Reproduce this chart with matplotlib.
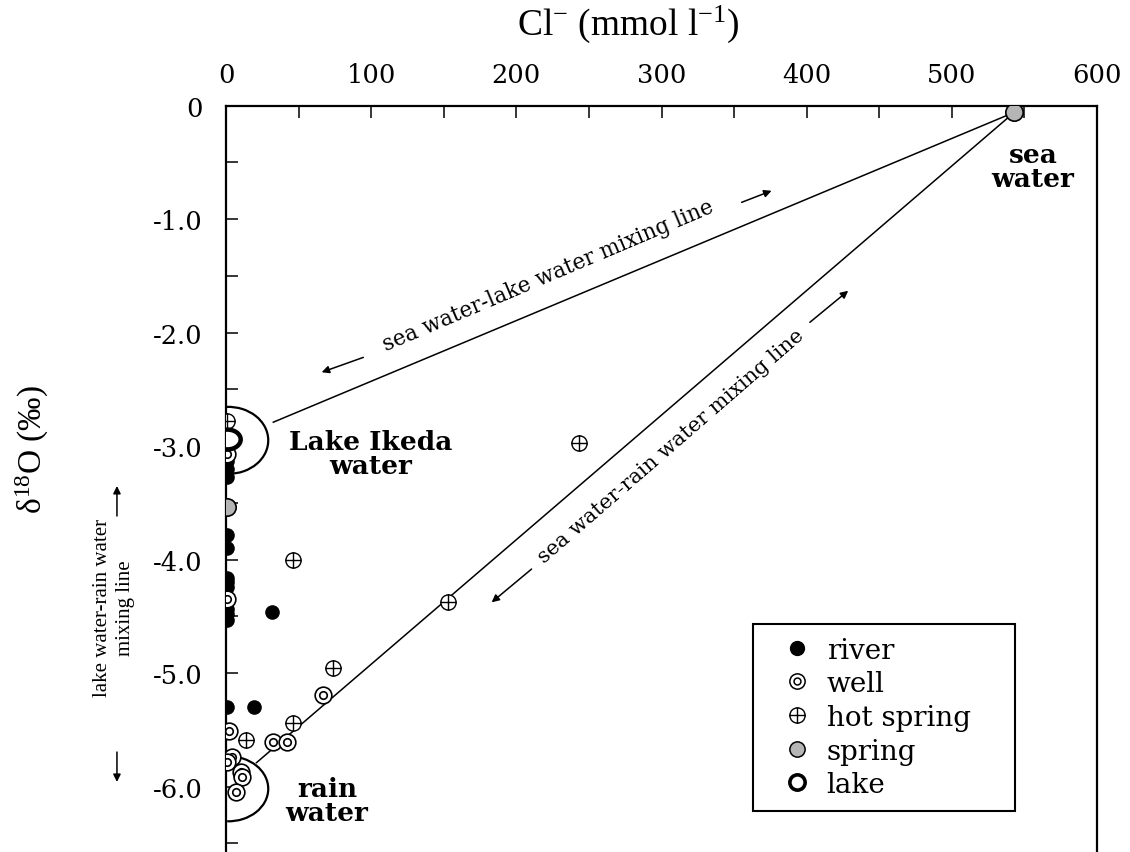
import matplotlib
matplotlib.use("Agg")
import matplotlib.pyplot as plt
from matplotlib.path import Path
from matplotlib.patches import Arc
from matplotlib.lines import Line2D

plt.rcParams.update({
    "font.family": "DejaVu Serif",
    "mathtext.fontset": "custom",
    "mathtext.rm": "Liberation Serif",
    "mathtext.it": "Liberation Serif:italic",
    "mathtext.bf": "Liberation Serif:bold",
    "axes.unicode_minus": False,
})

# --- data (Cl- in mmol/l, d18O in permil) ---
river_cl = [0.5, 0.5, 0.5, 0.5, 0.5, 0.5, 0.5, 0.5, 0.5, 0.5, 0.5, 32, 0.5, 19]
river_d18o = [-3.13, -3.20, -3.27, -3.78, -3.90, -4.16, -4.20, -4.24,
              -4.44, -4.48, -4.53, -4.46, -5.30, -5.30]

well_cl = [0.5, 0.5, 2.3, 32.6, 41.8, 66.6, 4, 0.5, 10.3, 10.8, 6.7]
well_d18o = [-3.07, -4.35, -5.51, -5.61, -5.61, -5.19, -5.74, -5.78,
             -5.87, -5.92, -6.05]

hot_cl = [0.5, 243, 46, 153, 74, 46, 14]
hot_d18o = [-2.78, -2.97, -4.00, -4.37, -4.96, -5.44, -5.59]

spring_cl = [543, 0.5]
spring_d18o = [-0.06, -3.54]

lake_cl = [0.5]
lake_d18o = [-2.94]

# mixing lines (end members)
mix_lake_cl = [543, 32.6]
mix_lake_d18o = [-0.06, -2.79]
mix_rain_cl = [543, 21]
mix_rain_d18o = [-0.06, -5.79]

xticks = [0, 100, 200, 300, 400, 500, 600]
yticks = [0, -1, -2, -3, -4, -5, -6]
ytick_labels = ["0", "-1.0", "-2.0", "-3.0", "-4.0", "-5.0", "-6.0"]

# --- marker shapes ---
circ = Path.unit_circle()
ring = Path.make_compound_path(circ, Path(circ.vertices * 0.45, circ.codes))
plus = Path([(-1, 0), (1, 0), (0, -1), (0, 1)],
            [Path.MOVETO, Path.LINETO, Path.MOVETO, Path.LINETO])
circ_plus = Path.make_compound_path(circ, plus)
oval = Path(circ.vertices * [1, 0.75], circ.codes)

fig = plt.figure(figsize=(11.3, 8.53), dpi=100)
ax = fig.add_axes([0.2, 0.0, 0.7708, 0.8751])

# mixing lines
ax.plot(mix_lake_cl, mix_lake_d18o, color="black", lw=1.1, zorder=1)
ax.plot(mix_rain_cl, mix_rain_d18o, color="black", lw=1.1, zorder=1)

# end member envelopes
ax.add_patch(Arc((1.6, -2.95), 55, 0.59, theta1=-95, theta2=165,
                 color="black", lw=1.6, zorder=2))
ax.add_patch(Arc((1.6, -6.02), 55, 0.573, theta1=-160, theta2=150,
                 color="black", lw=1.6, zorder=2))

# samples
ax.plot(river_cl, river_d18o, ls="none", marker="o", ms=9.5,
        mfc="black", mec="black", zorder=4)
ax.plot(well_cl, well_d18o, ls="none", marker=ring, ms=12,
        mfc="white", mec="black", mew=1.2, zorder=5)
ax.plot(hot_cl, hot_d18o, ls="none", marker=circ_plus, ms=11,
        mfc="white", mec="black", mew=1.0, zorder=5)
ax.plot(spring_cl, spring_d18o, ls="none", marker="o", ms=12.5,
        mfc="#b5b5b5", mec="black", mew=1.2, zorder=5)
ax.plot(lake_cl, lake_d18o, ls="none", marker=oval, ms=19,
        mfc="white", mec="black", mew=3.2, zorder=6)

# mixing line labels and arrows
ax.text(221.9, -1.49, "sea water-lake water mixing line", fontsize=15.5,
        rotation=23, rotation_mode="anchor", ha="center", va="center")
ax.text(306.7, -3.0, "sea water-rain water mixing line", fontsize=15,
        rotation=41, rotation_mode="anchor", ha="center", va="center")

arr = dict(arrowstyle="-|>", color="black", lw=1.1, mutation_scale=11,
           shrinkA=0, shrinkB=0)
ax.annotate("", xy=(65.9, -2.35), xytext=(94.6, -2.219), arrowprops=arr)
ax.annotate("", xy=(375.8, -0.751), xytext=(355.2, -0.853), arrowprops=arr)
ax.annotate("", xy=(183, -4.377), xytext=(210.5, -4.084), arrowprops=arr)
ax.annotate("", xy=(428.6, -1.632), xytext=(402.2, -1.91), arrowprops=arr)

# end member names
ax.text(99.9, -3.07, "Lake Ikeda\nwater", fontsize=19, fontweight="bold",
        ha="center", va="center", linespacing=0.95)
ax.text(69.6, -6.12, "rain\nwater", fontsize=19, fontweight="bold",
        ha="center", va="center", linespacing=0.95)
ax.text(555.8, -0.54, "sea\nwater", fontsize=19, fontweight="bold",
        ha="center", va="center", linespacing=0.95)

# axes styling
ax.set_xlim(0, 600)
ax.set_ylim(-6.577, 0)
ax.xaxis.tick_top()
ax.set_xticks(xticks)
ax.set_xticks([50, 150, 250, 350, 450, 550], minor=True)
ax.set_xticklabels([str(v) for v in xticks])
ax.set_yticks(yticks)
ax.set_yticks([-0.5, -1.5, -2.5, -3.5, -4.5, -5.5, -6.5], minor=True)
ax.set_yticklabels(ytick_labels)
ax.tick_params(axis="x", which="both", direction="in", length=8.6, width=1.1,
               top=True, bottom=False, labeltop=True, labelbottom=False,
               pad=13, labelsize=18.5)
ax.tick_params(axis="y", which="both", direction="in", length=8.6, width=1.1,
               left=True, right=False, pad=17, labelsize=18.5)
ax.spines["bottom"].set_visible(False)
for s in ["top", "left", "right"]:
    ax.spines[s].set_linewidth(1.6)

# axis titles
fig.text(0.5558, 0.9719, "Cl$^{-}$ (mmol l$^{-1}$)", family="Liberation Serif",
         fontsize=27, ha="center", va="center")
fig.text(0.0283, 0.4725, "δ$^{18}$O (‰)", family="Liberation Serif",
         fontsize=24, rotation=90, ha="center", va="center")
fig.text(0.1009, 0.2872, "lake water-rain water\nmixing line",
         family="Liberation Serif", fontsize=15, rotation=90,
         ha="center", va="center", linespacing=1.3)
farr = dict(arrowstyle="-|>", color="black", lw=1.1, mutation_scale=11,
            shrinkA=0, shrinkB=0)
ax.annotate("", xy=(0.1035, 0.4291), xytext=(0.1035, 0.3939),
            xycoords="figure fraction", textcoords="figure fraction",
            arrowprops=farr, annotation_clip=False)
ax.annotate("", xy=(0.1035, 0.0821), xytext=(0.1035, 0.1172),
            xycoords="figure fraction", textcoords="figure fraction",
            arrowprops=farr, annotation_clip=False)

# legend
handles = [
    Line2D([], [], ls="none", marker="o", ms=10, mfc="black", mec="black"),
    Line2D([], [], ls="none", marker=ring, ms=11, mfc="white", mec="black", mew=1.1),
    Line2D([], [], ls="none", marker=circ_plus, ms=11, mfc="white", mec="black", mew=1.0),
    Line2D([], [], ls="none", marker="o", ms=11, mfc="#b5b5b5", mec="black", mew=1.1),
    Line2D([], [], ls="none", marker="o", ms=11, mfc="white", mec="black", mew=2.6),
]
labels = ["river", "well", "hot spring", "spring", "lake"]
leg = ax.legend(handles, labels, loc="upper left",
                bbox_to_anchor=(0.605, 0.0576, 0.301, 0.2478), mode="expand",
                borderaxespad=0, prop={"family": "DejaVu Serif", "size": 20},
                frameon=True, fancybox=False, framealpha=1, edgecolor="black",
                borderpad=0.45, handlelength=2.3, handletextpad=-0.1,
                labelspacing=0.24)
leg.get_frame().set_linewidth(1.5)
leg.set_zorder(10)

fig.savefig("out.png", dpi=100)
